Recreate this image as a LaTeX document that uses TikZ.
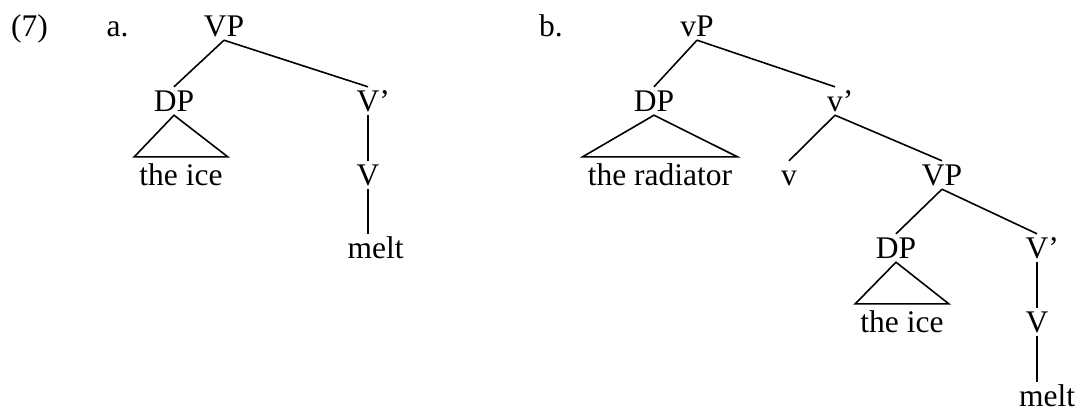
\documentclass[tikz,border=0pt]{standalone}
\usepackage{fontspec}
\setmainfont{Liberation Serif}
\tikzset{
  cat/.style={anchor=base, inner xsep=0pt, inner ysep=4pt, text height=20pt, text depth=0pt,
              font=\fontsize{31.5}{36}\selectfont},
  wd/.style={cat, inner xsep=5pt, inner ysep=6pt, text height=22pt},
  br/.style={line width=1.6pt, draw=black},
}
\begin{document}
\begin{tikzpicture}[x=1pt, y=-1pt]
  \useasboundingbox (0,0) rectangle (1081,410);
  % (7a)
  \node[cat] (ex) at (29.5,36) {(7)};
  \node[cat] (la) at (117.5,36) {a.};
  \node[cat] (vpA) at (224,36) {VP};
  \node[cat] (dpA) at (174,111) {DP};
  \node[wd] (iceA) at (181,185) {the ice};
  \node[cat] (vbarA) at (368,111) {V\rlap{’}};
  \node[cat] (vA) at (368,185) {V};
  \node[cat] (meltA) at (375.5,258) {melt};
  \draw[br] (vpA.south) -- (dpA.north);
  \draw[br] (vpA.south) -- (vbarA.north);
  \draw[br] (dpA.south) -- (iceA.north west) -- (iceA.north east) -- cycle;
  \draw[br] (vbarA.south) -- (vA.north);
  \draw[br] (vA.south) -- (vA.south |- meltA.north);
  % (7b)
  \node[cat] (lb) at (551,36) {b.};
  \node[cat] (vpB) at (697,36) {vP};
  \node[cat] (dpB) at (654,111) {DP};
  \node[wd] (radB) at (660,185) {the radiator};
  \node[cat] (vbarB) at (835,111) {v\rlap{’}};
  \node[cat] (vB) at (789,185) {v};
  \node[cat] (vpB2) at (942,185) {VP};
  \node[cat] (dpB2) at (896,258) {DP};
  \node[wd] (iceB) at (902,332) {the ice};
  \node[cat] (vbarB2) at (1037,258) {V\rlap{’}};
  \node[cat] (vB2) at (1037,332) {V};
  \node[cat] (meltB) at (1047,406) {melt};
  \draw[br] (vpB.south) -- (dpB.north);
  \draw[br] (vpB.south) -- (vbarB.north);
  \draw[br] (dpB.south) -- (radB.north west) -- (radB.north east) -- cycle;
  \draw[br] (vbarB.south) -- (vB.north);
  \draw[br] (vbarB.south) -- (vpB2.north);
  \draw[br] (vpB2.south) -- (dpB2.north);
  \draw[br] (vpB2.south) -- (vbarB2.north);
  \draw[br] (dpB2.south) -- (iceB.north west) -- (iceB.north east) -- cycle;
  \draw[br] (vbarB2.south) -- (vB2.north);
  \draw[br] (vB2.south) -- (vB2.south |- meltB.north);
\end{tikzpicture}
\end{document}
